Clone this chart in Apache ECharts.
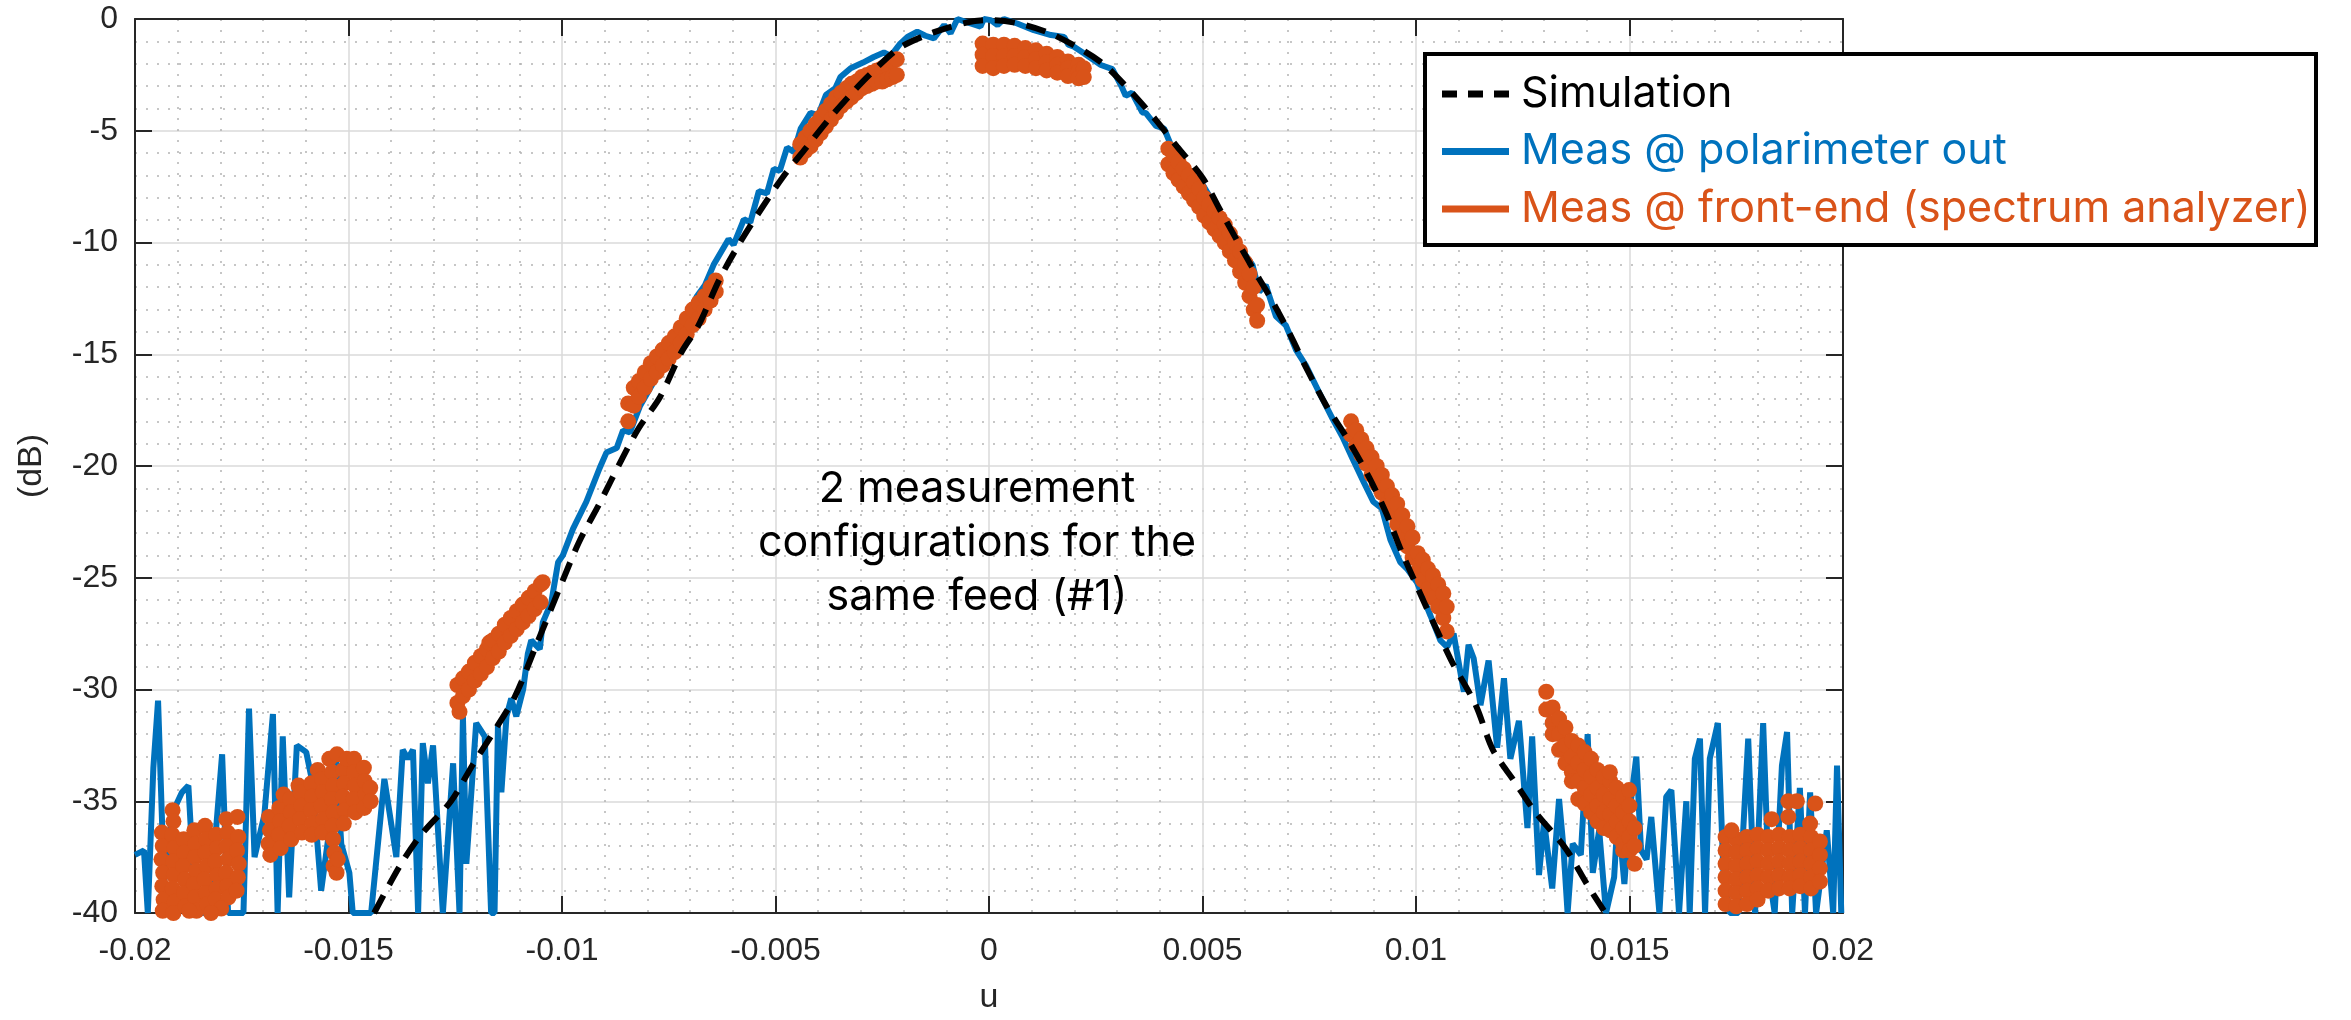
<!DOCTYPE html>
<html>
<head>
<meta charset="utf-8">
<script src="https://cdn.jsdelivr.net/npm/echarts@6/dist/echarts.min.js"></script>
<style>
html,body{margin:0;padding:0;background:#fff;}
#chart{width:2351px;height:1020px;}
</style>
</head>
<body>
<div id="chart"></div>
<script>
// ---- Data (u, dB) ----
const simulation = [
[-0.0144,-40],[-0.0138,-37.9],[-0.0133,-36.5],[-0.0126,-35.0],[-0.0121,-33.4],[-0.0116,-31.9],[-0.0111,-30.3],
[-0.0106,-28.0],[-0.0100,-25.2],[-0.0096,-23.4],[-0.0091,-21.6],[-0.0086,-19.7],[-0.0082,-18.3],[-0.0077,-16.9],
[-0.0072,-14.9],[-0.0068,-13.7],[-0.0063,-11.6],[-0.0058,-9.9],[-0.0053,-8.4],[-0.0048,-7.0],[-0.0043,-5.8],
[-0.0038,-4.6],[-0.0033,-3.5],[-0.0028,-2.5],[-0.0021,-1.3],[-0.0013,-0.6],[-0.0005,-0.15],[0,-0.05],
[0.0007,-0.2],[0.0015,-0.7],[0.0026,-1.9],[0.0033,-3.2],[0.0039,-4.5],[0.0044,-5.7],[0.0050,-7.1],[0.0054,-8.5],
[0.0061,-10.9],[0.0066,-12.5],[0.0071,-14.3],[0.0074,-15.5],[0.0079,-17.3],[0.0084,-18.8],[0.0089,-20.5],
[0.0093,-22.1],[0.0097,-24.0],[0.0108,-28.6],[0.0114,-30.7],[0.0118,-32.7],[0.0123,-34.1],[0.0128,-35.5],
[0.0135,-37.1],[0.0140,-38.7],[0.0144,-39.9]
];

const polarimeter = [
[-0.0200,-37.4],[-0.01979,-37.2],[-0.0197,-40],[-0.01957,-33.5],[-0.01946,-30.5],[-0.01932,-38.6],[-0.01912,-35.5],
[-0.0189,-34.6],[-0.01875,-34.3],[-0.01858,-40],[-0.0184,-40],[-0.01823,-39.3],[-0.01796,-32.9],[-0.01782,-40],
[-0.01746,-40],[-0.01733,-30.85],[-0.0172,-37.5],[-0.01697,-35.6],[-0.01677,-31.1],[-0.01666,-40],[-0.01654,-32.1],
[-0.01639,-39.3],[-0.01621,-32.5],[-0.01599,-32.8],[-0.01584,-34.2],[-0.01564,-39.0],[-0.01545,-36.3],
[-0.01529,-33.0],[-0.01517,-36.9],[-0.01498,-38.2],[-0.0149,-40],[-0.01447,-40],[-0.01416,-34.0],[-0.01388,-37.5],
[-0.01373,-32.7],[-0.01361,-33.1],[-0.01349,-32.7],[-0.01337,-40],[-0.01326,-32.4],[-0.01314,-34.2],
[-0.01302,-32.5],[-0.01279,-40],[-0.01255,-33.3],[-0.0124,-40],[-0.01232,-31.2],[-0.01224,-37.8],[-0.01201,-31.5],
[-0.01181,-32.1],[-0.01166,-40],[-0.01158,-40],[-0.0115,-31.6],[-0.01142,-34.6],[-0.0113,-31.2],[-0.01119,-30.4],
[-0.01107,-31.2],[-0.01091,-30.0],[-0.0108,-28.4],[-0.01072,-27.8],[-0.01052,-28.2],[-0.01045,-27.0],
[-0.01025,-26.1],[-0.01009,-24.3],[-0.00998,-24.0],[-0.00974,-22.8],[-0.00943,-21.6],[-0.00912,-20.1],
[-0.00896,-19.4],[-0.00872,-19.2],[-0.00857,-18.4],[-0.00841,-18.5],[-0.00817,-17.3],[-0.0079,-16.4],
[-0.0076,-15.3],[-0.0073,-14.2],[-0.00705,-13.2],[-0.00684,-12.4],[-0.00665,-11.9],[-0.00645,-11.0],
[-0.0061,-9.85],[-0.00598,-10.1],[-0.00574,-8.96],[-0.00559,-9.1],[-0.00539,-7.7],[-0.0052,-7.8],[-0.00504,-6.7],
[-0.0049,-6.8],[-0.00473,-5.75],[-0.00457,-5.95],[-0.00441,-4.9],[-0.00418,-4.2],[-0.004,-4.3],[-0.00382,-3.4],
[-0.0036,-3.1],[-0.00348,-2.6],[-0.00324,-2.2],[-0.00295,-1.95],[-0.0027,-1.7],[-0.00246,-1.5],[-0.0023,-1.65],
[-0.00208,-1.1],[-0.00191,-0.8],[-0.00168,-0.57],[-0.00149,-0.75],[-0.00129,-0.87],[-0.00105,-0.27],
[-0.0009,-0.64],[-0.00074,0],[-0.00043,-0.2],[-0.0002,-0.34],[-0.00012,0],[0.00004,-0.05],[0.0002,-0.27],
[0.00035,0],[0.00066,-0.2],[0.00105,-0.5],[0.00145,-0.72],[0.00176,-0.8],[0.00186,-1.15],[0.00199,-1.24],
[0.00223,-1.54],[0.00262,-2.06],[0.00289,-2.24],[0.0031,-3.0],[0.0032,-3.43],[0.00335,-3.3],[0.00359,-4.18],
[0.00367,-4.2],[0.00391,-4.78],[0.0041,-4.9],[0.0043,-5.82],[0.00477,-7.0],[0.005,-7.4],[0.00539,-8.66],
[0.00586,-10.15],[0.00617,-11.0],[0.00633,-12.2],[0.00648,-11.9],[0.00672,-13.3],[0.00695,-13.7],
[0.00719,-14.8],[0.00742,-15.5],[0.00773,-16.7],[0.00805,-17.9],[0.00828,-18.7],[0.00852,-19.7],
[0.00877,-20.7],[0.009,-21.6],[0.0092,-21.9],[0.0094,-23.3],[0.00963,-24.3],[0.00979,-24.6],[0.01002,-25.2],
[0.01034,-26.7],[0.01057,-27.8],[0.01073,-28.1],[0.01088,-27.5],[0.01112,-30.1],[0.01123,-28.0],
[0.01135,-28.6],[0.01151,-30.7],[0.0117,-28.7],[0.0119,-32.6],[0.01206,-29.5],[0.01221,-33.1],[0.01241,-31.4],
[0.01261,-36.2],[0.01272,-32.1],[0.01288,-38.3],[0.013,-35.9],[0.01319,-38.9],[0.01335,-34.9],[0.01345,-37.0],
[0.01355,-40],[0.01367,-36.9],[0.01386,-37.4],[0.01402,-32.0],[0.01414,-38.2],[0.01429,-36.3],[0.01445,-40],
[0.01464,-38.4],[0.01473,-35.5],[0.01488,-38.7],[0.015,-35.5],[0.01516,-33.0],[0.01527,-37.2],[0.0154,-37.6],
[0.01551,-35.7],[0.0157,-40],[0.01586,-34.8],[0.01598,-34.5],[0.01616,-40],[0.01633,-35.0],[0.01641,-40],
[0.01653,-33.1],[0.01665,-32.2],[0.01677,-40],[0.01688,-33.1],[0.01707,-31.5],[0.0172,-38.2],[0.01735,-40],
[0.01755,-40],[0.01762,-37.8],[0.01778,-32.2],[0.01794,-40],[0.01813,-31.5],[0.01825,-38.0],[0.0184,-40],
[0.01857,-33.4],[0.01869,-31.9],[0.01881,-40],[0.01899,-34.4],[0.01911,-40],[0.01923,-34.6],[0.01937,-40],
[0.01962,-36.3],[0.01977,-40],[0.01986,-33.4],[0.01996,-40]
];

const frontEndA = [
[-0.01937,-36.4],[-0.01935,-37.0],[-0.01938,-37.6],[-0.01934,-38.2],[-0.01936,-38.8],[-0.01933,-39.4],[-0.01935,-39.9],
[-0.01912,-35.4],[-0.0191,-35.9],[-0.01913,-36.5],[-0.01908,-37.1],[-0.01911,-37.7],[-0.01909,-38.3],[-0.01912,-38.9],[-0.01907,-39.5],[-0.0191,-40.0],
[-0.01886,-36.7],[-0.01884,-37.3],[-0.01887,-37.9],[-0.01883,-38.5],[-0.01885,-39.1],[-0.01882,-39.7],
[-0.01861,-36.3],[-0.01858,-36.9],[-0.0186,-37.5],[-0.01857,-38.1],[-0.01862,-38.7],[-0.01859,-39.3],[-0.01856,-39.9],
[-0.01836,-36.1],[-0.01833,-36.7],[-0.01835,-37.3],[-0.01832,-37.9],[-0.01837,-38.5],[-0.01834,-39.1],[-0.01831,-39.6],
[-0.0181,-36.5],[-0.01808,-37.1],[-0.01812,-37.7],[-0.01807,-38.3],[-0.01809,-38.9],[-0.01811,-39.4],
[-0.01786,-35.8],[-0.01783,-36.4],[-0.01785,-37.0],[-0.01782,-37.6],[-0.01787,-38.2],[-0.01784,-38.8],[-0.01781,-39.3],
[-0.0176,-35.7],[-0.01758,-36.6],[-0.01761,-37.2],[-0.01757,-37.8],[-0.01759,-38.4],[-0.01762,-39.0],
[-0.01873,-39.9],[-0.01798,-39.8],[-0.01822,-40.0]
];
const frontEndB = [
[-0.01686,-35.7],[-0.01684,-36.3],[-0.01687,-36.9],[-0.01683,-37.4],
[-0.01662,-35.3],[-0.0166,-35.9],[-0.01663,-36.5],[-0.01659,-37.1],[-0.01652,-34.7],
[-0.01637,-34.9],[-0.01635,-35.5],[-0.01638,-36.1],[-0.01634,-36.7],[-0.01617,-34.3],
[-0.01612,-34.6],[-0.0161,-35.2],[-0.01613,-35.8],[-0.01609,-36.4],
[-0.01587,-34.2],[-0.01585,-34.8],[-0.01588,-35.4],[-0.01584,-36.0],[-0.01586,-36.5],[-0.01572,-33.6],
[-0.01562,-34.0],[-0.0156,-34.6],[-0.01563,-35.2],[-0.01559,-35.8],[-0.01561,-36.4],
[-0.01545,-33.1],[-0.01538,-33.7],[-0.01536,-34.3],[-0.01539,-34.9],[-0.01535,-35.5],[-0.01537,-36.1],
[-0.01536,-36.7],[-0.01533,-37.3],[-0.01535,-37.9],[-0.01528,-38.2],[-0.01525,-37.6],[-0.01527,-32.9],
[-0.01512,-33.6],[-0.0151,-34.2],[-0.01513,-34.8],[-0.01509,-35.4],[-0.01511,-36.0],
[-0.01504,-33.1],[-0.01487,-33.1],[-0.01487,-33.7],[-0.01485,-34.3],[-0.01488,-34.9],[-0.01484,-35.5],
[-0.01464,-33.5],[-0.01462,-34.1],[-0.0146,-34.7],[-0.01463,-35.3],[-0.01449,-34.4],[-0.01448,-35.0]
];
const frontEndC = [
[-0.01245,-29.8],[-0.01245,-30.6],[-0.0124,-31.0],[-0.01232,-29.5],[-0.01232,-30.3],[-0.01218,-29.2],[-0.01218,-30.0],
[-0.01204,-28.8],[-0.01204,-29.6],[-0.0119,-28.5],[-0.0119,-29.3],[-0.01176,-28.2],[-0.01176,-29.0],[-0.0117,-27.9],
[-0.01162,-27.8],[-0.01162,-28.6],[-0.01148,-27.5],[-0.01148,-28.3],[-0.01134,-27.1],[-0.01134,-27.9],
[-0.0112,-26.8],[-0.0112,-27.6],[-0.01106,-26.5],[-0.01106,-27.3],[-0.01092,-26.2],[-0.01092,-27.0],
[-0.01078,-25.9],[-0.01078,-26.7],[-0.01064,-25.6],[-0.01064,-26.4],[-0.0105,-25.3],[-0.0105,-26.1],[-0.01045,-25.2]
];
const frontEndD = [
[-0.00845,-17.2],[-0.00845,-18.0],[-0.00832,-16.5],[-0.00832,-17.3],[-0.0082,-16.2],[-0.0082,-16.9],
[-0.00806,-15.8],[-0.00806,-16.5],[-0.00792,-15.4],[-0.00792,-16.1],[-0.00778,-15.1],[-0.00778,-15.8],
[-0.00764,-14.8],[-0.00764,-15.5],[-0.0075,-14.5],[-0.0075,-15.2],[-0.00736,-14.2],[-0.00736,-14.9],
[-0.00722,-13.8],[-0.00722,-14.5],[-0.00708,-13.4],[-0.00708,-14.1],[-0.00694,-13.0],[-0.00694,-13.7],
[-0.0068,-12.7],[-0.0068,-13.4],[-0.00666,-12.4],[-0.00666,-13.0],[-0.00652,-12.0],[-0.00652,-12.6],
[-0.0064,-11.7],[-0.0064,-12.2]
];
const frontEndE = [
[-0.00442,-5.6],[-0.00442,-6.2],[-0.0043,-5.3],[-0.0043,-5.9],[-0.00418,-5.0],[-0.00418,-5.7],
[-0.00406,-4.7],[-0.00406,-5.4],[-0.00394,-4.4],[-0.00394,-5.1],[-0.00382,-4.1],[-0.00382,-4.8],
[-0.0037,-3.8],[-0.0037,-4.5],[-0.00358,-3.5],[-0.00358,-4.2],[-0.00346,-3.3],[-0.00346,-3.9],
[-0.00334,-3.1],[-0.00334,-3.7],[-0.00322,-2.9],[-0.00322,-3.5],[-0.0031,-2.8],[-0.0031,-3.3],
[-0.00298,-2.6],[-0.00298,-3.1],[-0.00286,-2.5],[-0.00286,-3.0],[-0.00274,-2.4],[-0.00274,-2.9],
[-0.00262,-2.3],[-0.00262,-2.8],[-0.0025,-2.2],[-0.0025,-2.8],[-0.00238,-2.1],[-0.00238,-2.7],
[-0.00226,-1.9],[-0.00226,-2.6],[-0.00216,-1.8],[-0.00216,-2.5]
];
const frontEndF = [
[-0.00015,-1.1],[-0.00015,-1.6],[-0.00015,-2.1],[0.0001,-1.15],[0.0001,-1.65],[0.0001,-2.2],
[0.00035,-1.15],[0.00035,-1.65],[0.00035,-2.1],[0.0006,-1.2],[0.0006,-1.65],[0.0006,-2.05],
[0.00085,-1.3],[0.00085,-1.7],[0.00085,-2.1],[0.0011,-1.4],[0.0011,-1.8],[0.0011,-2.2],
[0.00135,-1.55],[0.00135,-1.95],[0.00135,-2.3],[0.0016,-1.7],[0.0016,-2.05],[0.0016,-2.4],
[0.00185,-1.9],[0.00185,-2.2],[0.00185,-2.55],[0.0021,-2.05],[0.0021,-2.35],[0.0021,-2.65],
[0.00222,-2.2],[0.00222,-2.6]
];
const frontEndG = [
[0.0042,-5.8],[0.0042,-6.5],[0.00432,-6.1],[0.00432,-6.9],[0.00444,-6.4],[0.00444,-7.2],[0.00456,-6.7],[0.00456,-7.5],
[0.00468,-7.0],[0.00468,-7.8],[0.0048,-7.3],[0.0048,-8.1],[0.00492,-7.6],[0.00492,-8.4],[0.00504,-8.0],[0.00504,-8.8],
[0.00516,-8.3],[0.00516,-9.1],[0.00528,-8.6],[0.00528,-9.4],[0.0054,-8.9],[0.0054,-9.7],[0.00552,-9.2],[0.00552,-10.0],
[0.00564,-9.6],[0.00564,-10.4],[0.00576,-10.0],[0.00576,-10.8],[0.00588,-10.4],[0.00588,-11.3],[0.006,-10.9],[0.006,-11.8],
[0.0061,-11.4],[0.0061,-12.4],[0.0062,-12.0],[0.0062,-13.0],[0.00628,-12.8],[0.00628,-13.5]
];
const frontEndH = [
[0.00848,-18.0],[0.00848,-18.6],[0.0086,-18.4],[0.0086,-19.1],[0.00872,-18.8],[0.00872,-19.5],[0.00884,-19.2],[0.00884,-19.9],
[0.00896,-19.6],[0.00896,-20.4],[0.00908,-20.0],[0.00908,-20.8],[0.0092,-20.4],[0.0092,-21.2],[0.00932,-20.9],[0.00932,-21.7],
[0.00944,-21.3],[0.00944,-22.1],[0.00956,-21.7],[0.00956,-22.6],[0.00968,-22.2],[0.00968,-23.1],[0.0098,-22.7],[0.0098,-23.6],
[0.00992,-23.2],[0.00992,-24.1],[0.01004,-23.9],[0.01004,-24.7],[0.01016,-24.2],[0.01016,-25.1],[0.01028,-24.6],[0.01028,-25.5],
[0.0104,-24.9],[0.0104,-25.9],[0.01052,-25.3],[0.01052,-26.3],[0.01064,-25.7],[0.01064,-26.8],[0.01072,-26.3],[0.01072,-27.4]
];
const frontEndI = [
[0.01305,-30.1],[0.01305,-30.9],[0.0132,-30.8],[0.0132,-31.5],[0.0132,-32.0],[0.01335,-31.3],[0.01335,-32.0],[0.01335,-32.7],
[0.0135,-31.7],[0.0135,-32.5],[0.0135,-33.3],[0.01365,-32.3],[0.01365,-33.0],[0.01365,-33.7],[0.01365,-34.1],
[0.0138,-32.5],[0.0138,-33.3],[0.0138,-34.1],[0.0138,-34.9],[0.01395,-32.8],[0.01395,-33.6],[0.01395,-34.4],[0.01395,-35.1],
[0.0141,-33.1],[0.0141,-33.9],[0.0141,-34.7],[0.0141,-35.5],[0.01425,-33.6],[0.01425,-34.4],[0.01425,-35.2],[0.01425,-35.9],
[0.0144,-33.9],[0.0144,-34.7],[0.0144,-35.5],[0.0144,-36.2],[0.01455,-34.1],[0.01455,-34.9],[0.01455,-35.6],[0.01455,-36.3],
[0.0147,-34.4],[0.0147,-35.2],[0.0147,-35.9],[0.0147,-36.6],[0.01485,-34.8],[0.01485,-35.5],[0.01485,-36.2],[0.01485,-36.9],[0.01485,-37.2],
[0.015,-35.2],[0.015,-35.9],[0.015,-36.6],[0.015,-37.2],[0.01512,-36.2],[0.01512,-37.0],[0.01512,-37.8],
[0.01454,-33.7],[0.01499,-34.5]
];
const frontEndJ = [
[0.01725,-36.6],[0.01725,-37.2],[0.01725,-37.8],[0.01725,-38.4],[0.01725,-39.0],[0.01725,-39.6],
[0.0175,-36.7],[0.0175,-37.3],[0.0175,-37.9],[0.0175,-38.5],[0.0175,-39.1],[0.0175,-39.7],
[0.01775,-36.6],[0.01775,-37.2],[0.01775,-37.8],[0.01775,-38.4],[0.01775,-39.0],[0.01775,-39.6],
[0.018,-36.5],[0.018,-37.1],[0.018,-37.7],[0.018,-38.3],[0.018,-38.9],[0.018,-39.4],
[0.01825,-36.6],[0.01825,-37.2],[0.01825,-37.8],[0.01825,-38.4],[0.01825,-39.0],
[0.0185,-36.5],[0.0185,-37.1],[0.0185,-37.7],[0.0185,-38.3],[0.0185,-38.9],
[0.01875,-36.6],[0.01875,-37.2],[0.01875,-37.8],[0.01875,-38.4],[0.01875,-38.9],
[0.019,-36.5],[0.019,-37.1],[0.019,-37.7],[0.019,-38.3],[0.019,-38.8],
[0.01925,-36.6],[0.01925,-37.2],[0.01925,-37.8],[0.01925,-38.4],[0.01925,-38.9],
[0.01946,-36.8],[0.01946,-37.4],[0.01946,-38.0],[0.01946,-38.6],
[0.01739,-36.3],[0.01833,-35.8],[0.01872,-35.0],[0.01892,-35.0],[0.01935,-35.1],[0.01872,-35.7],[0.01923,-36.0]
];
const frontEnd = [].concat(frontEndA, frontEndB, frontEndC, frontEndD, frontEndE, frontEndF, frontEndG, frontEndH, frontEndI, frontEndJ);

const seriesNames = ['Simulation', 'Meas @ polarimeter out', 'Meas @ front-end (spectrum analyzer)'];
const annotationLines = ['2 measurement', 'configurations for the', 'same feed (#1)'];
const xRange = [-0.02, 0.02, 0.005];
const yRange = [-40, 0, 5];

const BLUE = '#0072BD', ORANGE = '#D95319', AX = '#262626';
const tickFont = {fontFamily: 'Liberation Sans, Arial, sans-serif', fontSize: 32, color: AX};

const chart = echarts.init(document.getElementById('chart'), null, {renderer: 'canvas'});

const baseX = {
  type: 'value', min: xRange[0], max: xRange[1], interval: xRange[2],
  axisLine: {show: true, onZero: false, lineStyle: {color: AX, width: 2}},
  axisTick: {show: true, inside: true, length: 17, lineStyle: {color: AX, width: 2}},
  minorTick: {show: false, splitNumber: 5},
};
const baseY = {
  type: 'value', min: yRange[0], max: yRange[1], interval: yRange[2],
  axisLine: {show: true, onZero: false, lineStyle: {color: AX, width: 2}},
  axisTick: {show: true, inside: true, length: 17, lineStyle: {color: AX, width: 2}},
  minorTick: {show: false, splitNumber: 5},
};

chart.setOption({
  animation: false,
  backgroundColor: '#ffffff',
  grid: {left: 135, right: 508, top: 19, bottom: 105, containLabel: false},
  xAxis: [
    Object.assign({}, baseX, {
      position: 'bottom',
      name: 'u', nameLocation: 'middle', nameGap: 68,
      nameTextStyle: {fontFamily: 'Liberation Sans, Arial, sans-serif', fontSize: 34, color: AX},
      axisLabel: Object.assign({margin: 22, formatter: v => String(parseFloat(v.toFixed(4)))}, tickFont),
      splitLine: {show: true, lineStyle: {color: '#dadada', width: 1.5}},
      minorSplitLine: {show: true, lineStyle: {color: '#b4b4b4', width: 1.5, type: [2, 9]}}
    }),
    Object.assign({}, baseX, {
      position: 'top', axisLabel: {show: false}, splitLine: {show: false}
    })
  ],
  yAxis: [
    Object.assign({}, baseY, {
      position: 'left',
      name: '(dB)', nameLocation: 'middle', nameGap: 86, nameRotate: 90,
      nameTextStyle: {fontFamily: 'Liberation Sans, Arial, sans-serif', fontSize: 34, color: AX},
      axisLabel: Object.assign({margin: 17}, tickFont),
      splitLine: {show: true, lineStyle: {color: '#dadada', width: 1.5}},
      minorSplitLine: {show: true, lineStyle: {color: '#b4b4b4', width: 1.5, type: [2, 9]}}
    }),
    Object.assign({}, baseY, {
      position: 'right', axisLabel: {show: false}, splitLine: {show: false}
    })
  ],
  legend: {
    orient: 'vertical', left: 1423, top: 52,
    itemWidth: 67, itemHeight: 7, itemGap: 9.5,
    padding: [18, 5, 12, 19],
    backgroundColor: 'transparent', borderWidth: 0,
    selectedMode: false, z: 20,
    textStyle: {fontFamily: 'Inter, Noto Sans, sans-serif', fontSize: 43, lineHeight: 48, padding: [0, 0, 0, 7]},
    data: [
      {name: seriesNames[0], icon: 'path://M0,0h15v7h-15z M26,0h15v7h-15z M52,0h15v7h-15z',
        itemStyle: {color: '#000000'}, textStyle: {color: '#000000'}},
      {name: seriesNames[1], icon: 'path://M0,0h67v7h-67z', itemStyle: {color: BLUE}, textStyle: {color: BLUE}},
      {name: seriesNames[2], icon: 'path://M0,0h67v7h-67z', itemStyle: {color: ORANGE}, textStyle: {color: ORANGE}}
    ]
  },
  graphic: [
    {
      type: 'rect', z: 15, shape: {x: 1425, y: 54, width: 891, height: 191},
      style: {fill: '#ffffff', stroke: '#000000', lineWidth: 4}
    },
    {
      type: 'text', x: 977, y: 543, z: 10,
      style: {
        text: annotationLines.join('\n'), align: 'center', verticalAlign: 'middle',
        fontFamily: 'Inter, Noto Sans, sans-serif', fontSize: 43, lineHeight: 54, fill: '#000000'
      }
    }
  ],
  series: [
    {
      name: seriesNames[1], type: 'line', data: polarimeter, showSymbol: false, symbol: 'none',
      lineStyle: {color: BLUE, width: 6}, itemStyle: {color: BLUE}, z: 2, clip: true
    },
    {
      name: seriesNames[2], type: 'scatter', data: frontEnd, symbolSize: 16,
      itemStyle: {color: ORANGE, opacity: 1}, z: 3, clip: true
    },
    {
      name: seriesNames[0], type: 'line', data: simulation, showSymbol: false, symbol: 'none', smooth: 0.3,
      lineStyle: {color: '#000000', width: 6, type: [20, 12]}, itemStyle: {color: '#000000'}, z: 4, clip: true
    }
  ]
});
</script>
</body>
</html>
